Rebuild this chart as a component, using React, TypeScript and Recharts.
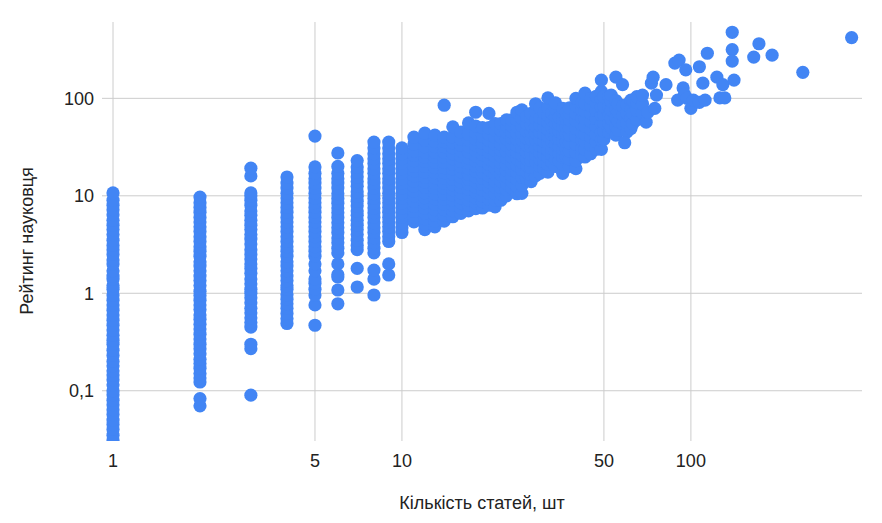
import { CartesianGrid, Scatter, ScatterChart, XAxis, YAxis } from "recharts"

// кількість статей (вісь X) для щільних стовпчиків
const articleCounts = [
  1, 2, 3, 4, 5, 6, 7, 8, 9, 10, 11, 12, 13, 14, 15, 16, 17, 18, 19, 20, 21, 22, 23, 24, 25, 26, 27, 28, 29, 30,
  31, 32, 33, 34, 35, 36, 37, 38, 40, 42, 43, 45, 47, 49, 50, 52, 53, 55, 56, 58, 60, 62, 63, 65, 68,
]

// рейтинги науковців для кожної кількості статей
const ratingsByCount = [
  [0.031, 0.035, 0.04, 0.045, 0.05, 0.057, 0.064, 0.072, 0.08, 0.091, 0.1, 0.115, 0.13, 0.145, 0.16, 0.18, 0.2, 0.23,
    0.26, 0.3, 0.33, 0.37, 0.42, 0.47, 0.53, 0.6, 0.67, 0.76, 0.85, 0.96, 1.1, 1.2, 1.4, 1.5, 1.7, 2, 2.2, 2.5, 2.8,
    3.1, 3.5, 4, 4.5, 5, 5.6, 6.4, 7.2, 8, 9, 10.7],
  [0.07, 0.083, 0.123, 0.135, 0.15, 0.17, 0.19, 0.21, 0.24, 0.27, 0.3, 0.34, 0.38, 0.43, 0.48, 0.54, 0.6, 0.68, 0.76,
    0.85, 0.95, 1.05, 1.2, 1.35, 1.5, 1.7, 1.9, 2.1, 2.4, 2.7, 3, 3.4, 3.8, 4.3, 4.8, 5.4, 6, 6.8, 7.6, 8.5, 9.7],
  [0.09, 0.27, 0.3, 0.45, 0.5, 0.56, 0.63, 0.7, 0.8, 0.9, 1, 1.1, 1.25, 1.4, 1.6, 1.8, 2, 2.25, 2.5, 2.8, 3.2, 3.6,
    4, 4.5, 5, 5.6, 6.3, 7, 8, 9, 10, 10.7, 16, 19.2],
  [0.49, 0.55, 0.62, 0.7, 0.78, 0.87, 0.97, 1.1, 1.2, 1.35, 1.5, 1.7, 1.9, 2.1, 2.4, 2.7, 3, 3.4, 3.8, 4.3, 4.8, 5.4,
    6, 6.8, 7.6, 8.5, 9.5, 10.6, 12, 13.5, 15.6],
  [0.47, 0.76, 0.96, 1.1, 1.27, 1.4, 1.7, 2, 2.4, 2.7, 3, 3.4, 3.8, 4.3, 4.8, 5.4, 6, 6.8, 7.6, 8.5, 9.5, 10.6, 12,
    13.5, 15, 17, 19.8, 41],
  [0.78, 1.08, 1.47, 1.55, 2, 2.6, 2.9, 3.3, 3.7, 4.2, 4.7, 5.3, 6, 6.7, 7.5, 8.4, 9.4, 10.5, 12, 13.5, 15, 17, 20, 27.5],
  [1.16, 1.8, 2.8, 3.1, 3.5, 4, 4.5, 5, 5.6, 6.3, 7, 7.9, 8.8, 9.9, 11, 12.5, 14, 15.7, 17.6, 19.8, 23],
  [0.96, 1.4, 1.73, 2.6, 2.9, 3.3, 3.7, 4.2, 4.7, 5.3, 6, 6.7, 7.5, 8.4, 9.4, 10.5, 12, 13.5, 15, 17, 19, 21.5, 24, 27,
    31, 35.6],
  [1.54, 2, 3.4, 3.8, 4.3, 4.8, 5.4, 6, 6.8, 7.6, 8.5, 9.5, 10.6, 12, 13.5, 15, 17, 19, 21.5, 24, 27, 31, 35.6],
  [4.2, 4.7, 5.3, 6, 6.7, 7.5, 8.4, 9.4, 10.5, 12, 13.5, 15, 17, 19, 21.5, 24, 27, 31],
  [5.4, 6.1, 6.9, 7.8, 8.8, 10, 11.2, 12.6, 14.2, 16, 18, 20, 23, 26, 29, 34, 40],
  [4.5, 5.1, 5.8, 6.6, 7.5, 8.5, 9.6, 10.8, 12.2, 13.8, 15.5, 17.5, 20, 22.5, 25, 28, 32, 37, 44],
  [4.8, 5.5, 6.3, 7.2, 8.2, 9.3, 10.5, 12, 13.5, 15.3, 17.3, 19.5, 22, 25, 28, 32, 36, 42],
  [5.5, 6.3, 7.2, 8.2, 9.3, 10.5, 12, 13.5, 15.3, 17.3, 19.5, 22, 25, 28, 32, 36, 40, 85],
  [6.1, 7, 8, 9, 10.2, 11.5, 13, 14.7, 16.6, 18.8, 21, 24, 27, 31, 35, 40, 51],
  [6.6, 7.5, 8.5, 9.6, 10.8, 12.2, 13.8, 15.6, 17.6, 20, 22.5, 25.5, 29, 33, 38, 45],
  [7, 8, 9.1, 10.3, 11.6, 13.1, 14.8, 16.7, 19, 21.5, 24.5, 28, 32, 37, 43, 56],
  [7.4, 8.4, 9.5, 10.8, 12.2, 13.8, 15.6, 17.7, 20, 22.6, 25.6, 29, 33, 38, 44, 52, 72],
  [7.5, 8.7, 10, 11.5, 13.2, 15.2, 17.5, 20, 23, 26.5, 30, 35, 41, 50],
  [8, 9.2, 10.6, 12.2, 14, 16, 18.5, 21, 24, 28, 32, 37, 43, 50, 70],
  [7.7, 9, 10.5, 12.2, 14.2, 16.5, 19, 22, 25.5, 29.5, 34, 40, 47, 55],
  [9, 10.5, 12.2, 14.2, 16.5, 19, 22, 25.5, 29.5, 34, 40, 47, 55],
  [10, 11.6, 13.5, 15.7, 18.2, 21, 24.5, 28.5, 33, 38.5, 45, 52, 60],
  [12, 13.9, 16, 18.5, 21.5, 25, 29, 33.5, 39, 45, 52, 60],
  [10.5, 12.5, 14.8, 17.5, 20.5, 24, 28, 32.5, 38, 44, 51, 60, 72],
  [10.6, 12.8, 15.5, 18.5, 22, 26, 31, 37, 44, 52, 62, 76],
  [15, 17.5, 20.5, 24, 28, 33, 39, 46, 55, 65],
  [14, 16.5, 19.5, 23, 27, 32, 38, 45, 53, 63, 70],
  [16, 19, 22.5, 26.5, 31, 37, 44, 52, 62, 73, 88],
  [17, 20, 23.5, 27.5, 32.5, 38, 45, 53, 63, 80],
  [19, 22.5, 26.5, 31, 36.5, 43, 51, 60, 71],
  [17.5, 21, 25, 29.5, 35, 41, 48, 57, 67, 80, 101],
  [22, 26, 30.5, 36, 42.5, 50, 59, 70],
  [20, 24, 28.5, 34, 40, 47, 56, 66, 78, 90],
  [23, 27.5, 32.5, 38.5, 45.5, 54, 64],
  [17, 21, 25, 30, 36, 43, 51, 61, 72, 79],
  [25, 30, 36, 43, 51, 61, 72],
  [20, 24, 29, 35, 42, 50, 60, 71, 80],
  [19, 23, 28, 34, 41, 49, 59, 70, 84, 100],
  [26, 31, 37, 44, 53, 63, 75, 90],
  [25, 30, 36, 43, 52, 62, 74, 88, 113],
  [27, 33, 40, 48, 58, 70, 84, 100],
  [30, 36, 43, 52, 62, 75, 90, 105],
  [30, 37, 45, 55, 67, 81, 98, 118, 154],
  [38, 46, 56, 68, 82, 104],
  [45, 55, 67, 82, 104],
  [50, 62, 76, 93, 108],
  [42, 52, 64, 78, 95, 165],
  [47, 58, 72, 88],
  [55, 68, 84, 138],
  [45, 56, 70, 86],
  [49, 62, 78, 96],
  [55, 70, 96],
  [60, 75, 90, 104],
  [70, 88, 108],
]

// окремі точки з великою кількістю статей
const topCounts = [59, 70, 71, 73, 74, 75, 76, 82, 88, 90, 91, 94, 95, 96, 97, 100, 102, 107, 107, 110, 112, 114,
  123, 126, 129, 131, 139, 139, 139, 141, 165, 172, 191, 244, 360]
const topRatings = [35, 57, 72, 143, 165, 79, 108, 138, 230, 96, 247, 128, 110, 196, 100, 79, 96, 211, 91, 143, 96, 290,
  165, 101, 138, 101, 476, 316, 241, 154, 265, 363, 277, 185, 420]

const xTicks = [1, 5, 10, 50, 100]
const yTicks = [0.1, 1, 10, 100]

const points = [
  ...articleCounts.flatMap((c, i) => ratingsByCount[i].map((r) => ({ x: c, y: r }))),
  ...topCounts.map((c, i) => ({ x: c, y: topRatings[i] })),
]

const font = "Arial, 'Liberation Sans', sans-serif"
const dot = (p: any) => <circle cx={p.cx} cy={p.cy} r={6.6} fill="#4285F4" />

export default function App() {
  return (
    <div style={{ position: "absolute", left: 0, top: 0, width: 882, height: 523, background: "#fff" }}>
      <ScatterChart width={882} height={523} margin={{ top: 22, right: 20, bottom: 0, left: 0 }}>
        {/* лінії сітки тільки на поділках, без рамки */}
        <CartesianGrid stroke="#cccccc" syncWithTicks />
        <XAxis
          dataKey="x"
          type="number"
          scale="log"
          domain={[0.916, 391]}
          allowDataOverflow
          ticks={xTicks}
          height={82}
          axisLine={false}
          tickLine={false}
          tickMargin={7}
          tick={{ fill: "#222", fontSize: 18, fontFamily: font }}
          label={{
            content: ({ viewBox }: any) => (
              <text x={viewBox.x + viewBox.width / 2} y={509} textAnchor="middle" fill="#222" fontSize={18} fontFamily={font}>
                Кількість статей, шт
              </text>
            ),
          }}
        />
        <YAxis
          dataKey="y"
          type="number"
          scale="log"
          domain={[0.0305, 607]}
          allowDataOverflow
          ticks={yTicks}
          width={102}
          axisLine={false}
          tickLine={false}
          tick={{ fill: "#222", fontSize: 18, fontFamily: font }}
          tickFormatter={(v: number) => String(v).replace(".", ",")}
          label={{
            content: () => (
              <text
                x={27}
                y={241}
                transform="rotate(-90, 27, 241)"
                textAnchor="middle"
                dominantBaseline="central"
                fill="#222"
                fontSize={18}
                fontFamily={font}
              >
                Рейтинг науковця
              </text>
            ),
          }}
        />
        <Scatter data={points} shape={dot} isAnimationActive={false} />
      </ScatterChart>
    </div>
  )
}
